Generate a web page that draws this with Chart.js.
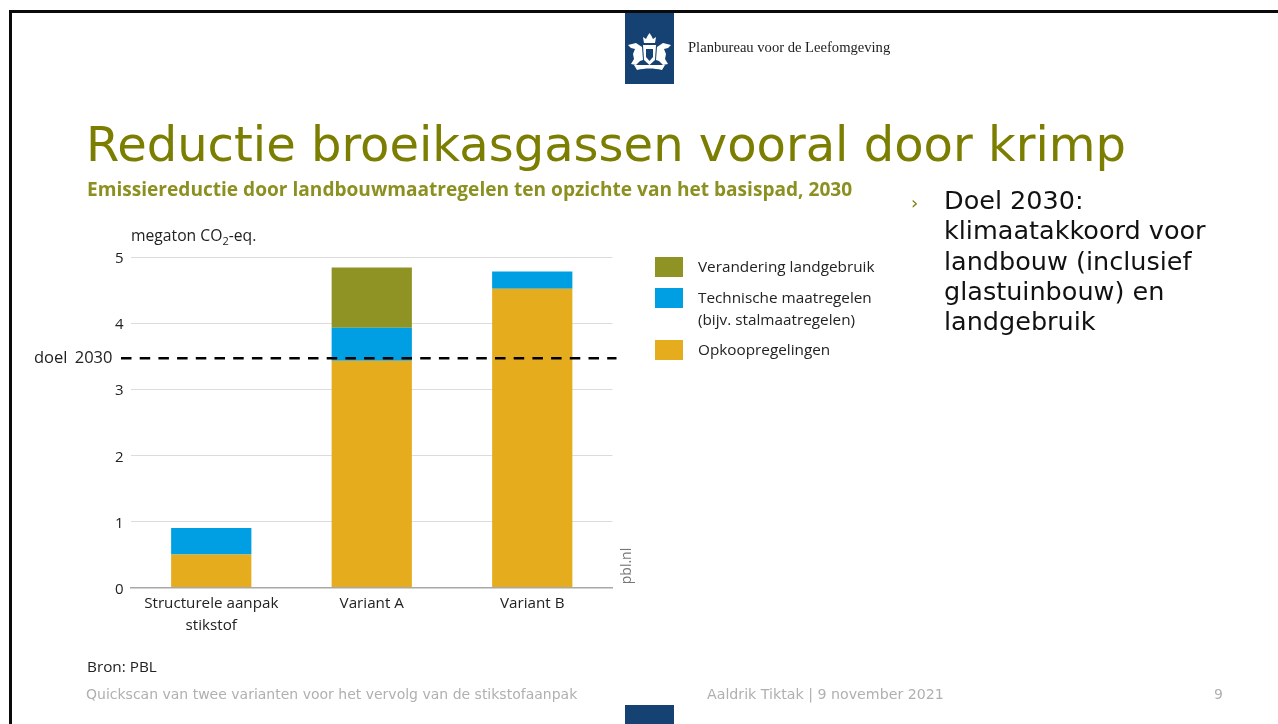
<!DOCTYPE html>
<html><head><meta charset="utf-8">
<style>
html,body{margin:0;padding:0;background:#fff;overflow:hidden}
#page{position:relative;width:1278px;height:724px;overflow:hidden;background:#fff}
#page canvas{position:absolute;left:0;top:0}
.t{position:absolute;white-space:nowrap;margin:0}
.frameT{position:absolute;left:9px;top:10px;width:1269px;height:2.5px;background:#0a0a0a;z-index:2}
.frameL{position:absolute;left:9px;top:10px;width:2.5px;height:714px;background:#0a0a0a;z-index:2}
.logo{position:absolute;left:625px;top:10px;width:49px;height:74px;background:#154273}
.logoB{position:absolute;left:625px;top:705px;width:49px;height:19px;background:#154273}
.sw{position:absolute;left:655px;width:28px;height:20px}
.leg{font:15.300px/21.500px "Open Sans",sans-serif;color:#222}
sub{font-size:70%;line-height:0}
</style></head>
<body><div id="page">
<canvas id="c" width="1278" height="724"></canvas>
<div class="frameT"></div><div class="frameL"></div>
<div class="logo"><svg width="49" height="74" viewBox="0 0 49 74">
<g fill="#fff" transform="translate(0,-5)">
<path d="M19 38l-1-6 3 2 1.500-3 2-3 2 3 1.500 3 3-2-1 6z"/>
<path d="M18 40h13l-1 15-5.500 5-5.500-5z"/>
<path d="M17 42l-6-4-8 2 3 3 4 1-2 5 1 5-3 5 5 1 4-4 3-1z"/>
<path d="M32 42l6-4 8 2-3 3-4 1 2 5-1 5 3 5-5 1-4-4-3-1z"/>
<path d="M9 60h31l-3 5c-8-2-17-2-25 0z"/>
</g><path d="M21 39h7v8l-3.500 4-3.500-4z" fill="#154273"/></svg></div>
<div class="logoB"></div>
<p class="t" style="left:688px;top:37px;font:14.600px/20px 'Liberation Serif',serif;color:#222">Planbureau voor de Leefomgeving</p>
<p class="t" style="left:86px;top:113px;font:48px/62px 'DejaVu Sans',sans-serif;color:#7b7e00">Reductie broeikasgassen vooral door krimp</p>
<p class="t" style="left:87px;top:176px;font:bold 19.100px/26px 'Open Sans',sans-serif;color:#8c9020">Emissiereductie door landbouwmaatregelen ten opzichte van het basispad, 2030</p>
<p class="t" style="left:131px;top:225px;font:15.700px/20px 'Open Sans',sans-serif;color:#222">megaton CO<sub>2</sub>-eq.</p>
<p class="t" style="left:34px;top:347px;font:16.500px/20px 'Open Sans',sans-serif;word-spacing:3px;color:#222">doel 2030</p>
<div id="legend"></div>
<p class="t" style="left:603px;top:557px;width:45px;text-align:center;transform:rotate(-90deg);font:14px/18px 'Open Sans',sans-serif;color:#777">pbl.nl</p>
<p class="t" style="left:87px;top:656px;font:15.300px/20px 'Open Sans',sans-serif;color:#222">Bron: PBL</p>
<p class="t" style="left:86px;top:685px;font:14px/18px 'DejaVu Sans',sans-serif;color:#b0b0b0">Quickscan van twee varianten voor het vervolg van de stikstofaanpak</p>
<p class="t" style="left:707px;top:685px;font:14.200px/18px 'DejaVu Sans',sans-serif;color:#b0b0b0">Aaldrik Tiktak | 9 november 2021</p>
<p class="t" style="left:1214px;top:685px;font:14px/18px 'DejaVu Sans',sans-serif;color:#b0b0b0">9</p>
<p class="t" style="left:911px;top:191px;font:18px/24px 'DejaVu Sans',sans-serif;color:#7b7e00">›</p>
<p class="t" style="left:944px;top:185px;font:25.500px/30.300px 'DejaVu Sans',sans-serif;color:#111">Doel 2030:<br>klimaatakkoord voor<br>landbouw (inclusief<br>glastuinbouw) en<br>landgebruik</p>
</div>
<script src="https://cdn.jsdelivr.net/npm/chart.js@4/dist/chart.umd.min.js"></script>
<script>
const categories = [["Structurele aanpak","stikstof"],"Variant A","Variant B"];
const opkoop = [0.5,3.43,4.52];
const technisch = [0.4,0.5,0.26];
const landgebruik = [0,0.91,0];
const yTicks = [0,1,2,3,4,5];
const doel2030 = 3.47;
const legendLabels = [["Verandering landgebruik"],["Technische maatregelen","(bijv. stalmaatregelen)"],["Opkoopregelingen"]];
const colors = {land:"#8f9323",tech:"#009fe3",opk:"#e5ac1d"};

const legendEl = document.getElementById("legend");
[[colors.land,257,256],[colors.tech,288,287],[colors.opk,340,339]].forEach((r,i)=>{
  const s=document.createElement("div");s.className="sw";s.style.top=r[1]+"px";s.style.background=r[0];legendEl.appendChild(s);
  const p=document.createElement("p");p.className="t leg";p.style.left="698px";p.style.top=r[2]+"px";
  p.innerHTML=legendLabels[i].join("<br>");legendEl.appendChild(p);
});

const doelLine = {
  id:"doelLine",
  afterDatasetsDraw(chart){
    const y=chart.scales.y.getPixelForValue(doel2030),ctx=chart.ctx;
    ctx.save();ctx.strokeStyle="#000";ctx.lineWidth=2.5;ctx.setLineDash([10.500,8.200]);
    ctx.beginPath();ctx.moveTo(chart.chartArea.left-10,y);ctx.lineTo(chart.chartArea.right+4,y);ctx.stroke();ctx.restore();
  }
};
const ds=(label,data,c)=>({label,data,backgroundColor:c,borderWidth:0,stack:"s",categoryPercentage:1,barPercentage:0.5});
new Chart(document.getElementById("c"),{
  type:"bar",
  data:{labels:categories,datasets:[
    ds("Opkoopregelingen",opkoop,colors.opk),
    ds("Technische maatregelen",technisch,colors.tech),
    ds("Verandering landgebruik",landgebruik,colors.land)]},
  plugins:[doelLine],
  options:{
    responsive:false,animation:false,
    layout:{padding:{left:100,top:257,right:665.5,bottom:86.5}},
    plugins:{legend:{display:false},tooltip:{enabled:false}},
    scales:{
      x:{stacked:true,
        afterFit(s){s.height=50;},
        grid:{display:false,drawTicks:false},
        border:{display:true,color:"#a8a8a8",width:1.5},
        ticks:{padding:5,color:"#222",maxRotation:0,autoSkip:false,font:{family:"Open Sans",size:15.2,lineHeight:1.45}}},
      y:{stacked:true,min:0,max:5,
        afterFit(s){s.width=31;},
        afterBuildTicks(s){s.ticks=yTicks.map(v=>({value:v}));},
        grid:{color:"#dcdcdc",lineWidth:1,drawTicks:false},
        border:{display:false},
        ticks:{padding:7.5,labelOffset:2,color:"#222",font:{family:"Open Sans",size:15}}}
    }
  }
});
</script>
</body></html>
